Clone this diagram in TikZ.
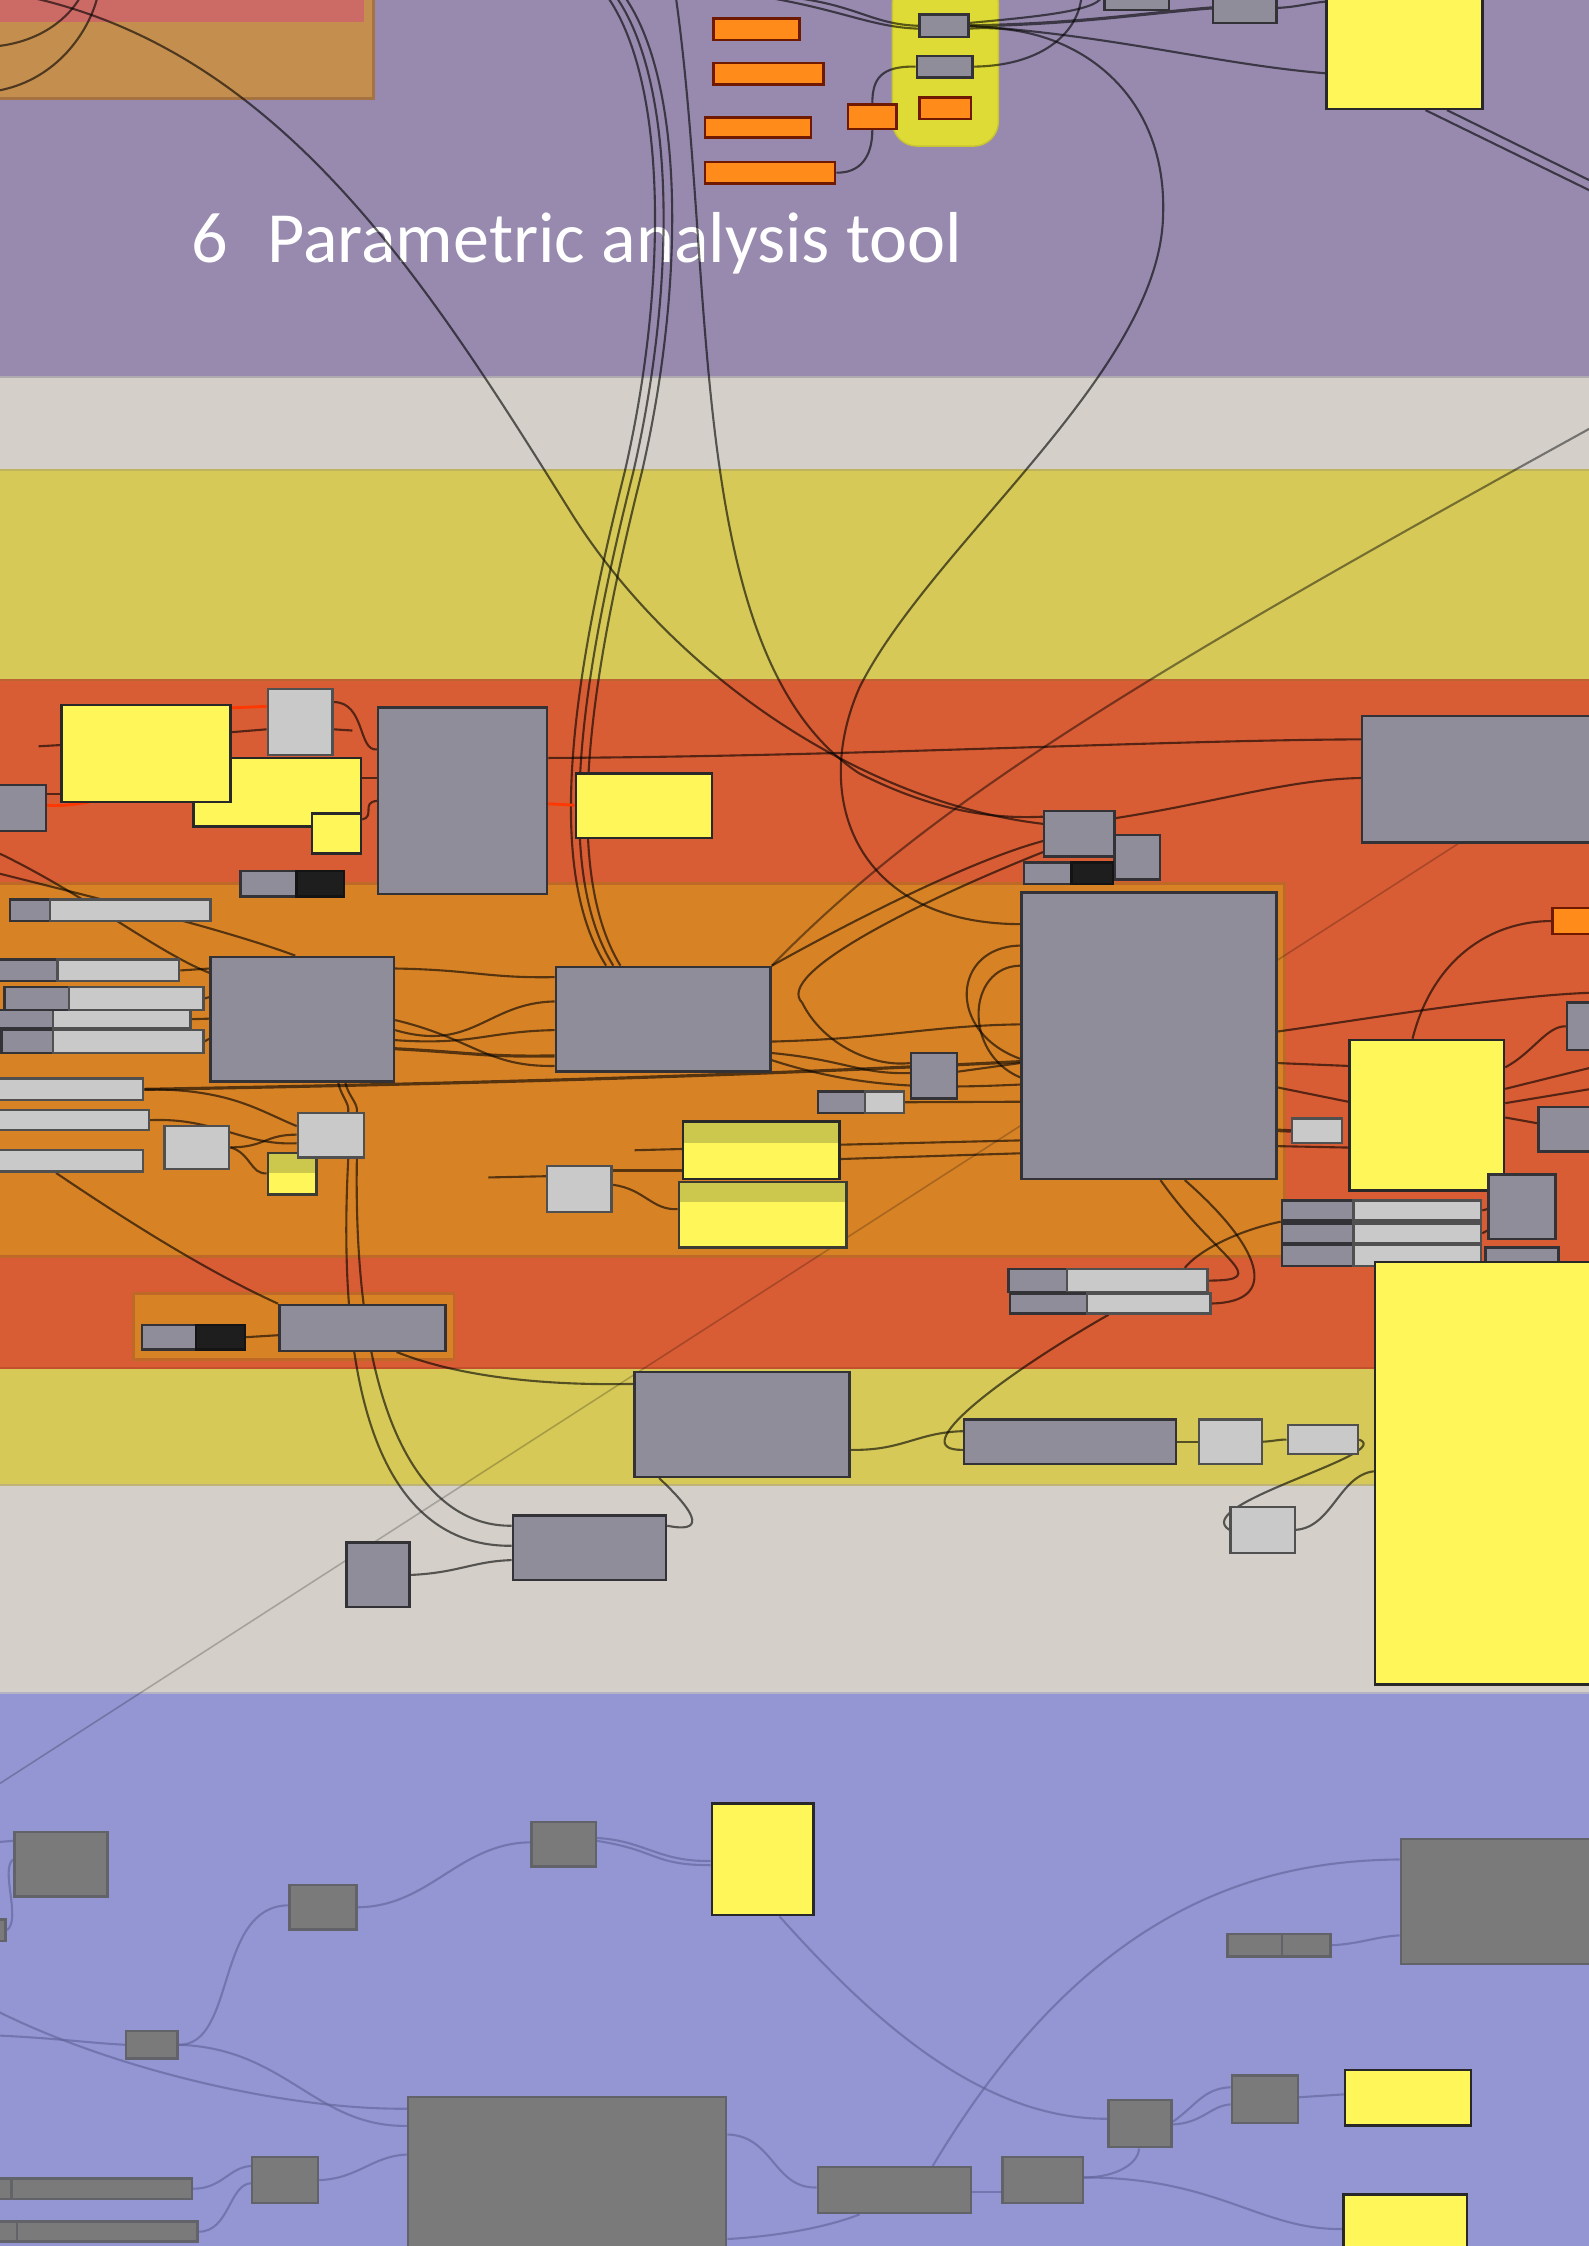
\documentclass[tikz,border=0pt]{standalone}
\usepackage{fontspec}
\newfontfamily\titlefont{Carlito}
\usetikzlibrary{fit,calc}
\pgfdeclarelayer{back}
\pgfdeclarelayer{wires}
\pgfsetlayers{back,wires,main}
\definecolor{bgpurple}{RGB}{151,138,174}
\definecolor{bglgray}{RGB}{212,208,201}
\definecolor{bgyellow}{RGB}{214,201,88}
\definecolor{bgred}{RGB}{216,92,52}
\definecolor{bgorange}{RGB}{216,130,38}
\definecolor{bgblue}{RGB}{147,150,211}
\definecolor{grpbrown}{RGB}{196,142,79}
\definecolor{grppink}{RGB}{204,106,102}
\definecolor{grpyellow}{RGB}{222,218,54}
\definecolor{compfill}{RGB}{143,141,154}
\definecolor{compline}{RGB}{50,50,55}
\definecolor{paramfill}{RGB}{201,201,201}
\definecolor{panelfill}{RGB}{255,247,90}
\definecolor{panelband}{RGB}{204,200,78}
\definecolor{orfill}{RGB}{255,140,26}
\definecolor{orline}{RGB}{110,25,0}
\definecolor{bluecomp}{RGB}{122,122,122}
\definecolor{bluecompline}{RGB}{98,98,105}
\definecolor{selwire}{RGB}{255,55,0}
\definecolor{edgeA}{RGB}{175,170,175}
\definecolor{edgeB}{RGB}{190,180,95}
\definecolor{edgeC}{RGB}{190,100,50}
\definecolor{edgeD}{RGB}{195,80,45}
\definecolor{edgeE}{RGB}{190,180,120}
\definecolor{edgeF}{RGB}{180,178,195}
\definecolor{grpbrownline}{RGB}{165,115,65}
\definecolor{grpyelline}{RGB}{200,196,50}
\definecolor{grporline}{RGB}{190,105,40}
\definecolor{parmline}{RGB}{80,80,80}
\definecolor{panelline}{RGB}{40,40,40}
\definecolor{panelline2}{RGB}{60,60,50}
\definecolor{togfill}{RGB}{30,30,30}
\definecolor{togline}{RGB}{20,20,20}
\definecolor{wlightc}{RGB}{95,97,150}
\tikzset{
  comp/.style={rectangle, draw=compline, fill=compfill, line width=0.7pt, inner sep=0pt},
  parm/.style={comp, fill=paramfill, draw=parmline},
  panel/.style={comp, fill=panelfill, draw=panelline},
  orpar/.style={comp, fill=orfill, draw=orline},
  tog/.style={comp, fill=togfill, draw=togline},
  bcomp/.style={comp, fill=bluecomp, draw=bluecompline},
  wire/.style={draw=black, opacity=0.6, line width=0.6pt},
  wsel/.style={draw=selwire, line width=0.8pt},
  wlight/.style={draw=wlightc, opacity=0.6, line width=0.6pt},
  wfaint/.style={draw=black, opacity=0.22, line width=0.45pt},
  bandedge/.style={line width=0.6pt}
}
\newcommand\gbox[6][comp]{\node[#1, fit={(#3,#4) (#5,#6)}] (#2) {};}
\begin{document}
\begin{tikzpicture}[x=0.014319cm, y=-0.014319cm]
\useasboundingbox (0,0) rectangle (1109,1568);
% ---------------- backgrounds ----------------
\begin{pgfonlayer}{back}
\fill[bgpurple] (0,0) rectangle (1109,263);
\fill[bglgray] (0,263) rectangle (1109,328);
\fill[bgyellow] (0,328) rectangle (1109,475);
\fill[bgred] (0,475) rectangle (1109,955);
\fill[bgyellow] (0,955) rectangle (1109,1037);
\fill[bglgray] (0,1037) rectangle (1109,1182);
\fill[bgblue] (0,1182) rectangle (1109,1568);
\draw[bandedge, draw=edgeA] (0,263) -- (1109,263);
\draw[bandedge, draw=edgeB] (0,328) -- (1109,328);
\draw[bandedge, draw=edgeC] (0,475) -- (1109,475);
\draw[bandedge, draw=edgeD] (0,955) -- (1109,955);
\draw[bandedge, draw=edgeE] (0,1037) -- (1109,1037);
\draw[bandedge, draw=edgeF] (0,1182) -- (1109,1182);
% groups
\filldraw[fill=grpbrown, draw=grpbrownline, line width=0.8pt] (-5,-5) rectangle (261,69);
\fill[grppink] (-5,-5) rectangle (254,15);
\filldraw[fill=grpyellow, draw=grpyelline, rounded corners=7pt] (623,-15) rectangle (697,102);
\filldraw[fill=bgorange, draw=grporline, line width=0.8pt] (-5,617) rectangle (897,877);
\filldraw[fill=bgorange, draw=grporline, line width=0.8pt] (93,903) rectangle (317,949);
\node[anchor=base west, text=white, inner sep=0pt, font={\titlefont\fontsize{20.5}{25}\selectfont}] (title) at (133,183) {6\hspace{0.55em}Parametric analysis tool};
\end{pgfonlayer}
% ---------------- top nodes ----------------
\gbox[orpar]{op1}{498}{13}{558}{28}
\gbox[orpar]{op2}{498}{44}{575}{59}
\gbox[orpar]{op3}{492}{82}{566}{96}
\gbox[orpar]{op4}{492}{113}{583}{128}
\gbox{yg1}{642}{10}{676}{26}
\gbox{yg2}{640}{39}{679}{54}
\gbox[orpar]{yg3}{642}{68}{678}{83}
\gbox[orpar]{ob1}{592}{73}{626}{90}
\gbox{t1}{771}{-5}{816}{7}
\gbox{t2}{847}{-5}{891}{16}
\gbox[panel]{ty}{926}{-5}{1035}{76}
% ---------------- red area ----------------
\gbox{b1}{-5}{548}{32}{580}
\gbox[panel]{y3}{135}{529}{252}{577}
\gbox[panel]{y2}{43}{492}{161}{560}
\gbox[parm]{lg4}{187}{481}{232}{527}
\gbox[panel]{y5}{218}{568}{252}{596}
\gbox{b6}{264}{494}{382}{624}
\gbox{tg7a}{168}{608}{207}{626}
\gbox[tog]{tg7b}{207}{608}{240}{626}
\gbox[panel]{y8}{402}{540}{497}{585}
\gbox{b9}{729}{566}{778}{598}
\gbox{b10}{778}{583}{810}{614}
\gbox{tg11a}{715}{602}{748}{617}
\gbox[tog]{tg11b}{748}{602}{777}{617}
\gbox{b12}{951}{500}{1115}{588}
\gbox[orpar]{o13}{1084}{634}{1115}{652}
\gbox{b14}{1094}{700}{1115}{733}
\gbox[panel]{y15}{942}{726}{1050}{831}
\gbox{b16}{1074}{773}{1115}{804}
\gbox[parm]{lg17}{902}{781}{937}{798}
\gbox{b18}{1039}{820}{1086}{865}
\gbox{r1a}{895}{838}{945}{852}
\gbox[parm]{r1b}{945}{838}{1034}{852}
\gbox{r2a}{895}{854}{945}{868}
\gbox[parm]{r2b}{945}{854}{1034}{868}
\gbox{r3a}{895}{869}{945}{884}
\gbox[parm]{r3b}{945}{869}{1034}{884}
\gbox{b20}{1037}{871}{1088}{890}
\gbox[panel]{y21}{960}{881}{1115}{1176}
\gbox{p22a}{704}{886}{745}{902}
\gbox[parm]{p22b}{745}{886}{843}{902}
\gbox{p22c}{705}{903}{759}{917}
\gbox[parm]{p22d}{759}{903}{845}{917}
\gbox{tg23a}{99}{925}{137}{942}
\gbox[tog]{tg23b}{137}{925}{171}{942}
\gbox{b23}{195}{911}{311}{943}
% ---------------- orange group ----------------
\gbox{p24a}{7}{628}{35}{643}
\gbox[parm]{p24b}{35}{628}{147}{643}
\gbox{p25a}{-5}{670}{40}{685}
\gbox[parm]{p25b}{40}{670}{125}{685}
\gbox{p27a}{-5}{705}{37}{718}
\gbox[parm]{p27b}{37}{705}{133}{718}
\gbox{p26a}{3}{689}{48}{705}
\gbox[parm]{p26b}{48}{689}{142}{705}
\gbox{p28a}{1}{719}{37}{735}
\gbox[parm]{p28b}{37}{719}{142}{735}
\gbox{b29}{147}{668}{275}{755}
\gbox[parm]{p30}{-5}{753}{100}{768}
\gbox[parm]{p31}{-5}{775}{104}{789}
\gbox[parm]{p32}{-5}{803}{100}{818}
\gbox[parm]{lg33}{115}{786}{160}{816}
\gbox[panel]{y35}{187}{805}{221}{834}
\fill[panelband] (187,805) rectangle (221,819);
\draw[draw=panelline2, line width=0.7pt] (187,805) rectangle (221,834);
\gbox[parm]{lg34}{208}{777}{254}{808}
\gbox{b36}{388}{675}{538}{748}
\gbox{b37}{636}{735}{668}{767}
\gbox{p38a}{571}{762}{604}{777}
\gbox[parm]{p38b}{604}{762}{631}{777}
\gbox[panel]{y39}{477}{783}{586}{823}
\fill[panelband] (477,783) rectangle (586,798);
\draw[draw=panelline, line width=0.7pt] (477,783) rectangle (586,823);
\gbox[panel]{y40}{474}{825}{591}{871}
\fill[panelband] (474,825) rectangle (591,839);
\draw[draw=panelline2, line width=0.7pt] (474,825) rectangle (591,871);
\gbox[parm]{lg41}{382}{814}{427}{846}
\gbox{b42}{713}{623}{891}{823}
% ---------------- yellow / gray bands ----------------
\gbox{b43}{443}{958}{593}{1031}
\gbox{b44}{673}{991}{821}{1022}
\gbox[parm]{lg45}{837}{991}{881}{1022}
\gbox[parm]{lg46}{899}{995}{948}{1015}
\gbox{b47}{358}{1058}{465}{1103}
\gbox{b48}{242}{1077}{286}{1122}
\gbox[parm]{lg49}{859}{1052}{904}{1084}
% ---------------- blue area ----------------
\gbox[bcomp]{c50}{10}{1279}{75}{1324}
\gbox[bcomp]{c51}{-5}{1340}{4}{1355}
\gbox[bcomp]{c52}{202}{1316}{249}{1347}
\gbox[bcomp]{c53}{371}{1272}{416}{1303}
\gbox[panel]{y54}{497}{1259}{568}{1337}
\gbox[bcomp]{c55}{88}{1418}{124}{1437}
\gbox[bcomp]{c56}{285}{1464}{507}{1580}
\gbox[bcomp]{c57a}{-5}{1521}{8}{1535}
\gbox[bcomp]{c57}{8}{1521}{134}{1535}
\gbox[bcomp]{c57c}{-5}{1551}{12}{1565}
\gbox[bcomp]{c57b}{12}{1551}{138}{1565}
\gbox[bcomp]{c58}{176}{1506}{222}{1538}
\gbox[bcomp]{c59}{978}{1284}{1115}{1371}
\gbox[bcomp]{c60a}{857}{1350}{895}{1366}
\gbox[bcomp]{c60b}{895}{1350}{929}{1366}
\gbox[bcomp]{c61}{774}{1466}{818}{1499}
\gbox[bcomp]{c62}{860}{1449}{906}{1482}
\gbox[panel]{y63}{939}{1445}{1027}{1484}
\gbox[bcomp]{c64}{571}{1513}{678}{1545}
\gbox[bcomp]{c65}{700}{1506}{756}{1538}
\gbox[panel]{y66}{938}{1532}{1024}{1580}
% ---------------- free ends ----------------
\coordinate (ftl1) at (0,32); \coordinate (ftl1e) at (56,-2);
\coordinate (ftl2) at (0,63); \coordinate (ftl2e) at (68,-2);
\coordinate (fl1) at (25,-1);
\coordinate (fb1) at (425,-1); \coordinate (fb2) at (431,-1); \coordinate (fb3) at (437,-1);
\coordinate (fb4) at (472,-1);
\coordinate (fyA) at (769,-2); \coordinate (fyB) at (755,-2);
\coordinate (fyC) at (559,-1); \coordinate (fyD) at (540,-1);
\coordinate (fr1) at (1112,134); \coordinate (fr2) at (1112,127);
\coordinate (fs1) at (0,1245); \coordinate (fs2) at (1112,298);
\coordinate (fa1) at (27,521); \coordinate (fa2) at (62,560); \coordinate (fa3) at (246,510);
\coordinate (fo1) at (0,596); \coordinate (fo2) at (0,610);
\coordinate (fo3) at (341,822); \coordinate (fo4) at (443,803);
\coordinate (fr3) at (1112,693); \coordinate (fr4) at (1112,745); \coordinate (fr5) at (1112,760);
\coordinate (fb10) at (-2,1286); \coordinate (fb11) at (-2,1421); \coordinate (fb12) at (-2,1404);
% ---------------- wires ----------------
\begin{pgfonlayer}{wires}
% top
\draw[wire] (ftl1) .. controls (30,28) and (48,12) .. (ftl1e);
\draw[wire] (ftl2) .. controls (40,55) and (62,22) .. (ftl2e);
\draw[wire] (fl1) .. controls (200,40) and (300,200) .. (400,360) .. controls (470,470) and (600,560) .. ($(b9.north west)+(0,10)$);
\draw[wire] (fb1) .. controls (466,60) and (466,200) .. (436,330) .. controls (406,450) and (376,600) .. ($(b36.north west)+(36,0)$);
\draw[wire] (fb2) .. controls (472,60) and (472,200) .. (442,330) .. controls (412,450) and (382,600) .. ($(b36.north west)+(41,0)$);
\draw[wire] (fb3) .. controls (478,60) and (478,200) .. (448,330) .. controls (418,450) and (388,600) .. ($(b36.north west)+(46,0)$);
\draw[wire] (fb4) .. controls (500,200) and (478,460) .. (600,540) .. controls (650,565) and (690,572) .. ($(b9.north west)+(0,5)$);
\draw[wire] ($(yg1.east)+(0,2)$) .. controls (745,15) and (815,60) .. (812,150) .. controls (810,260) and (650,380) .. (600,480) .. controls (565,560) and (600,645) .. ($(b42.north west)+(0,23)$);
\draw[wire] ($(yg1.east)+(0,-2)$) .. controls (720,12) and (765,8) .. (fyA);
\draw[wire] (yg2.east) .. controls (725,46) and (752,25) .. (fyB);
\draw[wire, line width=0.9pt] (yg1.east) .. controls (750,17) and (800,9) .. (t2.west);
\draw[wire] (yg1.east) .. controls (780,25) and (850,45) .. ($(ty.north west)+(0,57)$);
\draw[wire] (fyC) .. controls (600,5) and (610,17) .. (yg1.west);
\draw[wire] (fyD) .. controls (590,8) and (610,19) .. ($(yg1.west)+(0,2)$);
\draw[wire] (op4.east) .. controls (600,121) and (609,110) .. (ob1.south);
\draw[wire] (ob1.north) .. controls (609,55) and (615,46) .. (yg2.west);
\draw[wire] (t2.east) .. controls (905,5) and (915,2) .. ($(ty.north west)+(0,7)$);
\draw[wire] ($(ty.south west)+(70,0)$) -- (fr1);
\draw[wire] ($(ty.south west)+(85,0)$) -- (fr2);
% long straight lines
\draw[wfaint] ($(b12.south west)+(68,0)$) -- (fs1);
\draw[wire, opacity=0.45] (fs2) .. controls (800,470) and (650,560) .. (b36.north east);
% red area
\draw[wire] (fa1) -- ($(y2.north west)+(0,29)$);
\draw[wire] ($(b1.north east)+(0,7)$) -- ($(y2.north west)+(0,63)$);
\draw[wsel] ($(b1.north east)+(0,15)$) .. controls (45,563) and (55,561) .. (fa2);
\draw[wire] ($(y2.north east)+(0,20)$) -- ($(lg4.north west)+(0,29)$);
\draw[wsel] ($(y2.north east)+(0,3)$) -- ($(lg4.north west)+(0,13)$);
\draw[wire] ($(lg4.north east)+(0,29)$) -- (fa3);
\draw[wire] ($(y3.north east)+(0,15)$) -- ($(b6.north west)+(0,50)$);
\draw[wire] ($(y5.north east)+(0,5)$) .. controls (262,570) and (252,560) .. ($(b6.north west)+(0,66)$);
\draw[wire] ($(lg4.north east)+(0,10)$) .. controls (255,490) and (250,525) .. ($(b6.north west)+(0,30)$);
\draw[wire] ($(b6.north east)+(0,36)$) .. controls (600,528) and (800,517) .. ($(b12.north west)+(0,17)$);
\draw[wsel] ($(b6.north east)+(0,68)$) -- ($(y8.north west)+(0,23)$);
\draw[wire] ($(b9.north east)+(0,6)$) .. controls (850,560) and (900,544) .. ($(b12.north west)+(0,44)$);
\draw[wire] (b36.north east) .. controls (600,640) and (680,600) .. ($(b9.north west)+(0,22)$);
\draw[wire] ($(b9.south west)+(0,-4)$) .. controls (640,630) and (540,680) .. (560,700) .. controls (575,730) and (610,745) .. ($(b37.north west)+(0,8)$);
\draw[wire] (tg11b.east) -- ($(b10.north west)+(0,27)$);
% orange group
\draw[wire] (fo1) .. controls (60,625) and (110,665) .. ($(b29.north west)+(0,12)$);
\draw[wire] (fo2) .. controls (80,630) and (160,650) .. ($(b29.north west)+(60,0)$);
\draw[wire] (p25b.east) -- ($(b29.north west)+(0,9)$);
\draw[wire] (p26b.east) -- ($(b29.north west)+(0,29)$);
\draw[wire] (p27b.east) -- ($(b29.north west)+(0,44)$);
\draw[wire] (p28b.east) -- ($(b29.north west)+(0,58)$);
\draw[wire] ($(b29.north east)+(0,9)$) .. controls (330,677) and (340,683) .. ($(b36.north west)+(0,8)$);
\draw[wire] ($(b29.north east)+(0,52)$) .. controls (330,735) and (340,700) .. ($(b36.north west)+(0,25)$);
\draw[wire] ($(b29.north east)+(0,59)$) .. controls (330,730) and (340,720) .. ($(b36.north west)+(0,45)$);
\draw[wire, line width=0.9pt] ($(b29.north east)+(0,65)$) .. controls (330,735) and (340,738) .. ($(b36.north west)+(0,63)$);
\draw[wire] ($(b29.north east)+(0,45)$) .. controls (330,725) and (340,745) .. ($(b36.north west)+(0,70)$);
\draw[wire, line width=0.9pt] (p30.east) .. controls (300,757) and (500,752) .. ($(b42.north west)+(0,119)$);
\draw[wire] (p30.east) .. controls (160,760) and (180,775) .. ($(lg34.north west)+(0,10)$);
\draw[wire] (p31.east) .. controls (150,780) and (170,800) .. ($(lg34.north west)+(0,22)$);
\draw[wire] ($(b29.south west)+(90,0)$) .. controls (238,765) and (244,770) .. ($(lg34.north west)+(36,0)$);
\draw[wire] ($(b29.south west)+(95,0)$) .. controls (243,765) and (250,770) .. ($(lg34.north west)+(42,0)$);
\draw[wire] ($(lg34.south west)+(36,0)$) .. controls (232,1020) and (290,1080) .. ($(b47.north west)+(0,22)$);
\draw[wire] ($(lg34.south west)+(42,0)$) .. controls (246,1000) and (300,1066) .. ($(b47.north west)+(0,8)$);
\draw[wire] ($(b23.south east)+(-35,0)$) .. controls (330,965) and (400,967) .. ($(b43.north west)+(0,9)$);
\draw[wire] (tg23b.east) -- ($(b23.north west)+(0,22)$);
\draw[wire] ($(p32.south west)+(45,0)$) .. controls (100,860) and (150,890) .. (b23.north west);
\draw[wire] (lg33.east) .. controls (185,801) and (185,792) .. ($(lg34.north west)+(0,16)$);
\draw[wire] (lg33.east) .. controls (175,805) and (175,820) .. ($(y35.north west)+(0,15)$);
\draw[wire] (fo3) -- ($(lg41.north west)+(0,8)$);
\draw[wire] (fo4) -- ($(y39.north west)+(0,20)$);
\draw[wire] ($(lg41.north east)+(0,4)$) -- ($(y39.north west)+(0,35)$);
\draw[wire] ($(lg41.north east)+(0,14)$) .. controls (450,830) and (455,845) .. ($(y40.north west)+(0,20)$);
\draw[wire] ($(b36.north east)+(0,53)$) .. controls (620,725) and (650,716) .. ($(b42.north west)+(0,93)$);
\draw[wire] ($(b36.north east)+(0,61)$) .. controls (590,740) and (600,750) .. ($(b37.north west)+(0,15)$);
\draw[wire] ($(b36.north east)+(0,66)$) .. controls (600,760) and (650,760) .. ($(b42.north west)+(0,135)$);
\draw[wire] ($(b37.north east)+(0,14)$) -- ($(b42.north west)+(0,120)$);
\draw[wire] (p38b.east) -- ($(b42.north west)+(0,147)$);
\draw[wire] ($(y39.north east)+(0,17)$) -- ($(b42.north west)+(0,174)$);
\draw[wire] ($(y39.north east)+(0,27)$) -- ($(b42.north west)+(0,183)$);
\draw[wire] ($(b42.north west)+(0,38)$) .. controls (665,661) and (660,720) .. ($(b42.north west)+(0,117)$);
\draw[wire] ($(b42.north west)+(0,52)$) .. controls (675,675) and (672,735) .. ($(b42.north west)+(0,130)$);
% right side
\draw[wire] ($(b42.north east)+(0,98)$) .. controls (950,712) and (1050,695) .. (fr3);
\draw[wire] ($(b42.north east)+(0,120)$) -- ($(y15.north west)+(0,19)$);
\draw[wire] ($(b42.north east)+(0,137)$) -- ($(y15.north west)+(0,44)$);
\draw[wire] ($(b42.north east)+(0,178)$) -- ($(y15.north west)+(0,76)$);
\draw[wire, line width=1pt] ($(b42.north east)+(0,167)$) -- (lg17.west);
\draw[wire] ($(y15.north west)+(45,0)$) .. controls (1000,670) and (1040,643) .. (o13.west);
\draw[wire] ($(y15.north east)+(0,20)$) .. controls (1070,735) and (1080,716) .. (b14.west);
\draw[wire] ($(y15.north east)+(0,55)$) -- ($(b16.north west)+(0,12)$);
\draw[wire] ($(y15.north east)+(0,35)$) -- (fr4);
\draw[wire] ($(y15.north east)+(0,45)$) -- (fr5);
\draw[wire] ($(b42.south west)+(98,0)$) .. controls (850,880) and (890,894) .. (p22b.east);
\draw[wire] ($(b42.south west)+(115,0)$) .. controls (880,870) and (895,909) .. (p22d.east);
\draw[wire] (r1b.east) -- ($(b18.north west)+(0,25)$);
\draw[wire] (r2b.east) -- ($(b18.north west)+(0,40)$);
\draw[wire] (r1a.south west) .. controls (860,860) and (835,875) .. ($(p22b.north west)+(83,0)$);
% yellow / gray bands
\draw[wire] ($(p22c.south east)+(14,0)$) .. controls (700,960) and (630,1013) .. ($(b44.north west)+(0,22)$);
\draw[wire] ($(b43.north east)+(0,55)$) .. controls (630,1013) and (640,1000) .. ($(b44.north west)+(0,9)$);
\draw[wire] (b44.east) -- (lg45.west);
\draw[wire] (lg45.east) .. controls (890,1006) and (892,1005) .. (lg46.west);
\draw[wire] (lg46.east) .. controls (975,1015) and (830,1050) .. (lg49.west);
\draw[wire] (lg49.east) .. controls (930,1066) and (935,1030) .. ($(y21.north west)+(0,147)$);
\draw[wire] ($(b43.south west)+(18,0)$) .. controls (490,1060) and (490,1070) .. ($(b47.north east)+(0,8)$);
\draw[wire] (b48.east) .. controls (320,1098) and (330,1090) .. ($(b47.north west)+(0,32)$);
% blue area
\draw[wlight] (fb10) -- ($(c50.north west)+(0,7)$);
\draw[wlight] ($(c50.north west)+(0,20)$) .. controls (0,1305) and (15,1340) .. (c51.east);
\draw[wlight] (fb11) .. controls (40,1423) and (60,1426) .. (c55.west);
\draw[wlight] (fb12) .. controls (80,1445) and (200,1473) .. ($(c56.north west)+(0,9)$);
\draw[wlight] (c55.east) .. controls (165,1428) and (150,1331) .. ($(c52.north west)+(0,15)$);
\draw[wlight] (c55.east) .. controls (200,1430) and (220,1485) .. ($(c56.north west)+(0,21)$);
\draw[wlight] (c52.east) .. controls (300,1331) and (320,1287) .. ($(c53.north west)+(0,15)$);
\draw[wlight] ($(c53.north east)+(0,12)$) .. controls (450,1285) and (460,1300) .. ($(y54.north west)+(0,41)$);
\draw[wlight] ($(c53.north east)+(0,14)$) .. controls (460,1292) and (455,1302) .. ($(y54.north west)+(0,44)$);
\draw[wlight] ($(y54.south west)+(48,0)$) .. controls (600,1400) and (680,1480) .. ($(c61.north west)+(0,14)$);
\draw[wlight] ($(c64.north west)+(81,0)$) .. controls (760,1330) and (880,1299) .. ($(c59.north west)+(0,15)$);
\draw[wlight] (c60b.east) .. controls (950,1357) and (960,1352) .. ($(c59.north west)+(0,68)$);
\draw[wlight] ($(c61.north east)+(0,16)$) .. controls (835,1470) and (840,1458) .. ($(c62.north west)+(0,9)$);
\draw[wlight] ($(c61.north east)+(0,18)$) .. controls (840,1482) and (845,1470) .. ($(c62.north west)+(0,21)$);
\draw[wlight] ($(c62.north east)+(0,16)$) -- ($(y63.north west)+(0,18)$);
\draw[wlight] ($(c65.north east)+(0,15)$) .. controls (780,1520) and (795,1510) .. ($(c61.south west)+(22,0)$);
\draw[wlight] ($(c65.north east)+(0,15)$) .. controls (850,1520) and (880,1557) .. ($(y66.north west)+(0,25)$);
\draw[wlight] ($(c64.north east)+(0,18)$) -- ($(c65.north west)+(0,25)$);
\draw[wlight] ($(c56.north east)+(0,27)$) .. controls (540,1491) and (540,1528) .. ($(c64.north west)+(0,15)$);
\draw[wlight] ($(c56.north east)+(0,100)$) .. controls (560,1560) and (590,1550) .. ($(c64.south west)+(30,0)$);
\draw[wlight] (c57.east) .. controls (155,1528) and (160,1513) .. ($(c58.north west)+(0,7)$);
\draw[wlight] (c57b.east) .. controls (160,1558) and (160,1525) .. ($(c58.north west)+(0,19)$);
\draw[wlight] (c58.east) .. controls (250,1521) and (260,1505) .. ($(c56.north west)+(0,41)$);
\end{pgfonlayer}
\end{tikzpicture}
\end{document}
